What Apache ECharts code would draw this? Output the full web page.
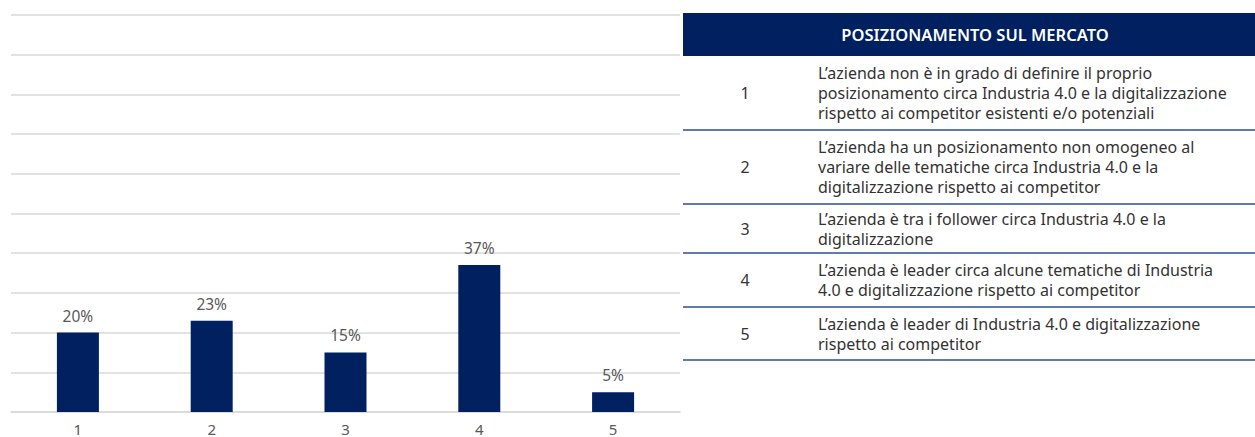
<!DOCTYPE html>
<html>
<head>
<meta charset="utf-8">
<script src="https://cdn.jsdelivr.net/npm/echarts@6/dist/echarts.min.js"></script>
<style>
  html, body { margin: 0; padding: 0; background: #ffffff; }
  #chart { width: 1255px; height: 437px; }
</style>
</head>
<body>
<div id="chart"></div>
<script>
// Bar chart data: share of companies per market-positioning level
const categories = ['1', '2', '3', '4', '5'];
const shares = [20, 23, 15, 37, 5];

// Legend table: title and the description of each level (one entry per text line)
const tableTitle = 'POSIZIONAMENTO SUL MERCATO';
const levelLabels = ['1', '2', '3', '4', '5'];
const levelDescriptions = [
  ['L\u2019azienda non è in grado di definire il proprio',
   'posizionamento circa Industria 4.0 e la digitalizzazione',
   'rispetto ai competitor esistenti e/o potenziali'],
  ['L\u2019azienda ha un posizionamento non omogeneo al',
   'variare delle tematiche circa Industria 4.0 e la',
   'digitalizzazione rispetto ai competitor'],
  ['L\u2019azienda è tra i follower circa Industria 4.0 e la',
   'digitalizzazione'],
  ['L\u2019azienda è leader circa alcune tematiche di Industria',
   '4.0 e digitalizzazione rispetto ai competitor'],
  ['L\u2019azienda è leader di Industria 4.0 e digitalizzazione',
   'rispetto ai competitor']
];

const NAVY = '#002060';
const FONT = '"Noto Sans", "DejaVu Sans", sans-serif';

// Table layout
const tableLeft = 683;
const tableRight = 1255;
const headerTop = 13;
const headerBottom = 56;
const rowBounds = [56, 130, 204, 253, 307, 360];
const numberX = 745;
const textX = 818;
const lineHeight = 20;

const graphics = [];
graphics.push({
  type: 'rect',
  shape: { x: tableLeft, y: headerTop, width: tableRight - tableLeft, height: headerBottom - headerTop },
  style: { fill: NAVY }
});
graphics.push({
  type: 'text',
  x: 975, y: (headerTop + headerBottom) / 2,
  style: {
    text: tableTitle, fill: '#ffffff', font: '600 16.5px ' + FONT,
    align: 'center', verticalAlign: 'middle'
  }
});
levelLabels.forEach(function (lab, i) {
  const top = rowBounds[i];
  const bottom = rowBounds[i + 1];
  const mid = (top + bottom) / 2;
  graphics.push({
    type: 'text',
    x: numberX, y: mid,
    style: { text: lab, fill: '#333333', font: '16px ' + FONT, align: 'center', verticalAlign: 'middle' }
  });
  const lines = levelDescriptions[i];
  graphics.push({
    type: 'text',
    x: textX, y: mid,
    style: {
      text: lines.join('\n'), fill: '#333333', font: '16px ' + FONT,
      lineHeight: lineHeight, align: 'left', verticalAlign: 'middle'
    }
  });
  graphics.push({
    type: 'line',
    shape: { x1: tableLeft, y1: bottom, x2: tableRight, y2: bottom },
    style: { stroke: '#5f7cab', lineWidth: 2 }
  });
});

const chart = echarts.init(document.getElementById('chart'), null, { renderer: 'svg' });
chart.setOption({
  animation: false,
  grid: { left: 11, right: 575, top: 15, bottom: 25 },
  xAxis: {
    type: 'category',
    data: categories,
    axisLine: { show: true, lineStyle: { color: '#d9d9d9', width: 1.5 } },
    axisTick: { show: false },
    axisLabel: { color: '#595959', fontSize: 15, fontFamily: FONT, margin: 9 }
  },
  yAxis: {
    type: 'value',
    min: 0, max: 100, interval: 10,
    axisLabel: { show: false },
    axisLine: { show: false },
    axisTick: { show: false },
    splitLine: { lineStyle: { color: '#d9d9d9', width: 1.5 } }
  },
  series: [{
    type: 'bar',
    data: shares,
    barWidth: 42,
    itemStyle: { color: NAVY },
    label: {
      show: true, position: 'top', distance: 9,
      formatter: '{c}%', color: '#595959', fontSize: 15.5, fontFamily: FONT
    }
  }],
  graphic: graphics
});
</script>
</body>
</html>
